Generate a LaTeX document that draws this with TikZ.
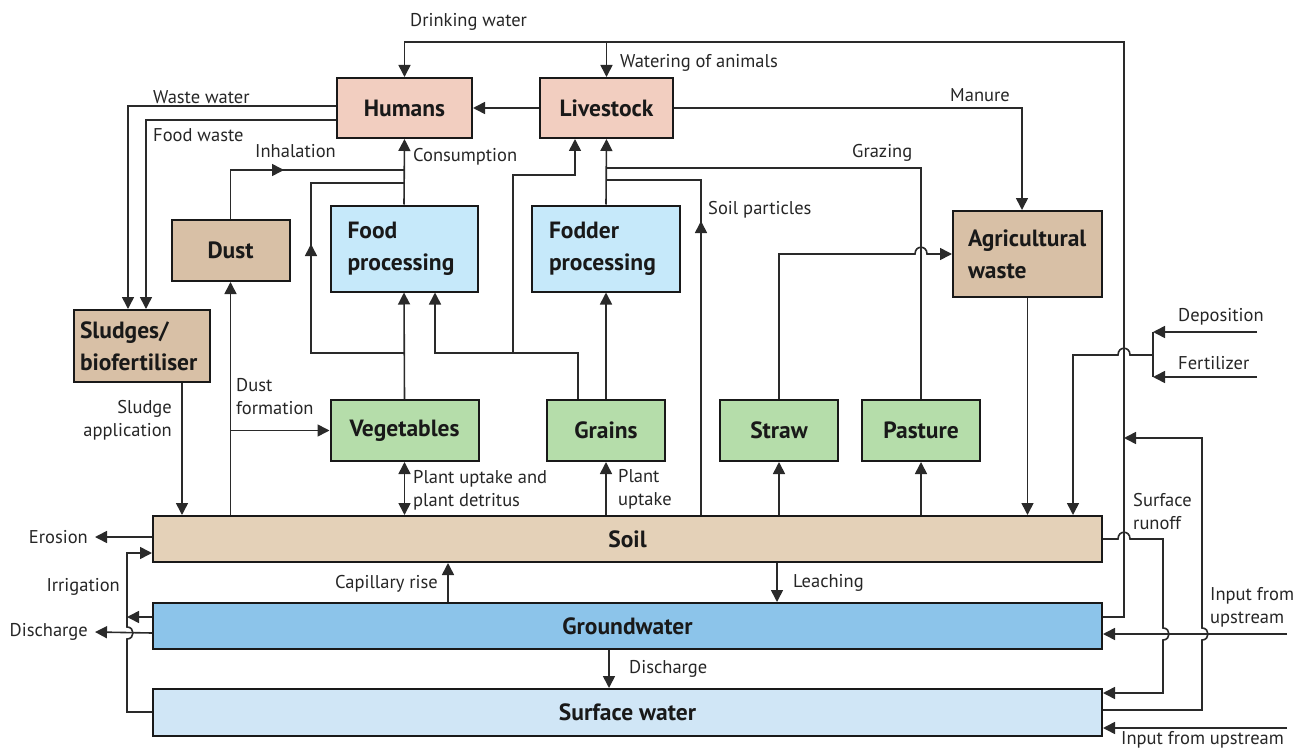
\documentclass[tikz,border=0pt]{standalone}
\usepackage{fontspec}
\setmainfont{PT Sans}
\usetikzlibrary{arrows.meta}
\definecolor{pinkc}{HTML}{F2CEC0}
\definecolor{tanc}{HTML}{D8C0A6}
\definecolor{procc}{HTML}{C6E9FA}
\definecolor{greenc}{HTML}{B5DDAA}
\definecolor{soilc}{HTML}{E4D1B8}
\definecolor{gwc}{HTML}{8CC4EA}
\definecolor{swc}{HTML}{D0E6F6}
\definecolor{linec}{HTML}{2A2A2A}
\begin{document}
\begin{tikzpicture}[x=1pt,y=-1pt,
 box/.style={draw=black!90, line width=2pt, inner sep=0pt, font=\fontsize{23.5}{32}\selectfont\bfseries, align=center, text=black!90},
 lbl/.style={font=\fontsize{18.5}{23}\selectfont, inner sep=0pt, align=left, text=black!85},
 ln/.style={draw=linec, line width=1.6pt},
 arr/.style={ln, -{Triangle[length=12pt,width=12pt]}},
 darr/.style={ln, {Triangle[length=12pt,width=12pt]}-{Triangle[length=12pt,width=12pt]}},
]
\useasboundingbox (0,0) rectangle (1312,749);

% boxes
\node[box, fill=pinkc, minimum width=135pt, minimum height=60pt] (hum) at (404.5,108) {Humans};
\node[box, fill=pinkc, minimum width=133pt, minimum height=60pt] (liv) at (606.5,108) {Livestock};
\node[box, fill=tanc, minimum width=118pt, minimum height=61pt] (dust) at (230.5,250.5) {Dust};
\node[box, fill=procc, minimum width=147pt, minimum height=86pt, text width=113pt, align=left] (fp) at (404,248.5) {Food\\processing};
\node[box, fill=procc, minimum width=148pt, minimum height=86pt, text width=114pt, align=left] (fdp) at (606,248.5) {Fodder\\processing};
\node[box, fill=tanc, minimum width=149pt, minimum height=86pt, text width=119pt, align=left] (agw) at (1027.5,254) {Agricultural\\waste};
\node[box, fill=tanc, minimum width=136pt, minimum height=72pt, text width=124pt, align=left] (sl) at (142,346) {Sludges/\\biofertiliser};
\node[box, fill=greenc, minimum width=148pt, minimum height=61pt] (veg) at (404.5,430.5) {Vegetables};
\node[box, fill=greenc, minimum width=118pt, minimum height=61pt] (gra) at (606,430.5) {Grains};
\node[box, fill=greenc, minimum width=118pt, minimum height=61pt] (stw) at (779,430.5) {Straw};
\node[box, fill=greenc, minimum width=118pt, minimum height=61pt] (pas) at (921,430.5) {Pasture};
\node[box, fill=soilc, minimum width=949pt, minimum height=46pt] (soil) at (627.5,539) {Soil};
\node[box, fill=gwc, minimum width=949pt, minimum height=46pt] (gw) at (627.5,626) {Groundwater};
\node[box, fill=swc, minimum width=949pt, minimum height=47pt] (sw) at (627.5,712.5) {Surface water};

% labels
\node[lbl, anchor=west] at (410,22) {Drinking water};
\node[lbl, anchor=west] at (620,63) {Watering of animals};
\node[lbl, anchor=west] at (153,97) {Waste water};
\node[lbl, anchor=west] at (153,135) {Food waste};
\node[lbl, anchor=west] at (255,151) {Inhalation};
\node[lbl, anchor=west] at (413,157) {Consumption};
\node[lbl, anchor=west] at (950,95) {Manure};
\node[lbl, anchor=west] at (852,153) {Grazing};
\node[lbl, anchor=west] at (708,210) {Soil particles};
\node[lbl, anchor=west] at (236,397) {Dust\\formation};
\node[lbl, anchor=east, align=right] at (172,420) {Sludge\\application};
\node[lbl, anchor=west] at (413,490) {Plant uptake and\\plant detritus};
\node[lbl, anchor=west] at (618,489) {Plant\\uptake};
\node[lbl, anchor=west] at (1178,317) {Deposition};
\node[lbl, anchor=west] at (1178,363) {Fertilizer};
\node[lbl, anchor=west] at (1133,512) {Surface\\runoff};
\node[lbl, anchor=west] at (1210,607) {Input from\\upstream};
\node[lbl, anchor=west] at (1121,740) {Input from upstream};
\node[lbl, anchor=east] (ero) at (88,537) {Erosion};
\node[lbl, anchor=east] at (120,587) {Irrigation};
\node[lbl, anchor=east] (dis) at (88,632) {Discharge};
\node[lbl, anchor=east] at (438,584) {Capillary rise};
\node[lbl, anchor=west] at (793,583) {Leaching};
\node[lbl, anchor=west] at (629,669) {Discharge};

% drinking water / watering
\draw[arr] ([yshift=9pt]gw.east) -- (1124,617) -- (1124,42) -- (404.5,42) -- (hum.north);
\draw[arr] (606.5,42) -- (liv.north);
\draw[arr] (liv.west) -- (hum.east);
% manure
\draw[arr] (liv.east) -- (1022,108) -- ([xshift=-5.5pt]agw.north);
% waste water, food waste
\draw[arr] ([yshift=2pt]hum.west) -- (128,106) -- ([xshift=-14pt]sl.north);
\draw[arr] ([yshift=-12pt]hum.west) -- (146,120) -- ([xshift=4pt]sl.north);
% sludge application
\draw[arr] ([xshift=40pt]sl.south) -- (soil.north -| 182,0);
% dust formation
\draw[arr] (soil.north -| dust.south) -- (dust.south);
\draw[arr] (dust.south |- veg.west) -- (veg.west);
% inhalation
\draw[arr] (dust.north) -- (230.5,170) -- (284,170);
\draw[ln] (282,170) -- (404,170);
% consumption
\draw[arr] (fp.north) -- (hum.south);
\draw[arr] (veg.north) -- (fp.south);
\draw[arr] (veg.north |- 0,353) -- (311,353) -- (311,244);
\draw[ln] (311,246) -- (311,183) -- (404,183);
% grains
\draw[arr] ([xshift=-28pt]gra.north) -- (578,353) -- (435,353) -- ([xshift=31pt]fp.south);
\draw[arr] (513,353) -- (513,175) -- (575,175) -- ([xshift=-31.5pt]liv.south);
\draw[arr] (gra.north) -- (fdp.south);
\draw[arr] (fdp.north) -- (liv.south);
% grazing
\draw[ln] (pas.north) -- (921,168) -- (606,168);
% soil particles
\draw[arr] (soil.north -| 701,0) -- (701,221);
\draw[ln] (701,223) -- (701,180) -- (606,180);
% straw to agricultural waste
\draw[arr] (stw.north) -- (779,254) -- (915,254) .. controls (915,245) and (927,245) .. (927,254) -- (agw.west);
% soil to crops
\draw[darr] (soil.north -| veg.south) -- (veg.south);
\draw[arr] (soil.north -| gra.south) -- (gra.south);
\draw[arr] (soil.north -| stw.south) -- (stw.south);
\draw[arr] (soil.north -| pas.south) -- (pas.south);
\draw[arr] (agw.south) -- (soil.north -| agw.south);
% deposition, fertilizer
\coordinate (dep) at (1257,332);
\coordinate (fer) at (1257,377);
\draw[arr] (dep) -- (1153,332);
\draw[arr] (fer) -- (1153,377);
\draw[ln] (1153,332) -- (1153,377);
\draw[arr] (1153,355) -- (1130,355) .. controls (1130,346) and (1118,346) .. (1118,355) -- (1073,355) -- (soil.north -| 1073,0);
% surface runoff
\draw[arr] (soil.east) -- (1118,539) .. controls (1118,530) and (1130,530) .. (1130,539) -- (1163,539) -- (1163,628) .. controls (1171,628) and (1171,640) .. (1163,640) -- (1163,693) -- (sw.east |- 0,693);
% inputs from upstream
\coordinate (in1) at (1287,634);
\draw[arr] (in1) -- (gw.east |- 0,634);
\coordinate (in2) at (1287,728);
\draw[arr] (in2) -- (sw.east |- 0,728);
% surface water to drinking line
\draw[arr] (sw.east |- 0,710) -- (1202,710) -- (1202,640) .. controls (1210,640) and (1210,628) .. (1202,628) -- (1202,438) -- (1124,438);
% erosion
\draw[arr] (soil.west |- 0,537) -- ([xshift=7pt]ero.east);
% irrigation
\draw[arr] (sw.west |- 0,712) -- (127,712) -- (127,639) .. controls (135,639) and (135,627) .. (127,627) -- (127,553) -- (soil.west |- 0,553);
\draw[arr] (gw.west |- 0,617) -- (127,617);
% discharge
\draw[arr] (gw.west |- 0,633) -- ([xshift=7pt]dis.east);
% capillary rise, leaching, discharge
\draw[arr] (gw.north -| 448,0) -- (soil.south -| 448,0);
\draw[arr] (soil.south -| 777,0) -- (gw.north -| 777,0);
\draw[arr] (gw.south -| 609,0) -- (sw.north -| 609,0);
\end{tikzpicture}
\end{document}
